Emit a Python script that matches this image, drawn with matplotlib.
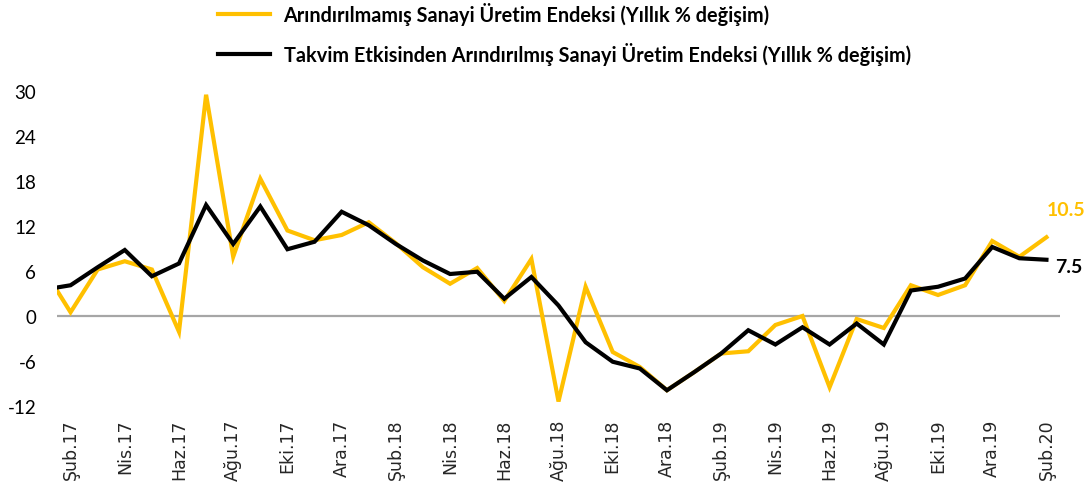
import matplotlib
matplotlib.use("Agg")
import matplotlib.pyplot as plt

plt.rcParams['font.family'] = ['Lato', 'DejaVu Sans']

# Monthly data, Jan 2017 (partially visible) .. Feb 2020
months = ["Oca.17", "Şub.17", "Mar.17", "Nis.17", "May.17", "Haz.17", "Tem.17", "Ağu.17", "Eyl.17",
          "Eki.17", "Kas.17", "Ara.17", "Oca.18", "Şub.18", "Mar.18", "Nis.18", "May.18", "Haz.18",
          "Tem.18", "Ağu.18", "Eyl.18", "Eki.18", "Kas.18", "Ara.18", "Oca.19", "Şub.19", "Mar.19",
          "Nis.19", "May.19", "Haz.19", "Tem.19", "Ağu.19", "Eyl.19", "Eki.19", "Kas.19", "Ara.19",
          "Oca.20", "Şub.20"]

unadjusted = [6.3, 0.5, 6.2, 7.3, 6.2, -2.1, 29.5, 7.9, 18.3, 11.4, 10.1, 10.8, 12.5, 9.7, 6.5, 4.3,
              6.4, 2.0, 7.6, -11.4, 3.9, -4.8, -6.8, -9.9, -7.5, -5.0, -4.7, -1.2, 0.0, -9.5, -0.4,
              -1.6, 4.1, 2.8, 4.1, 10.0, 7.9, 10.5]

calendar_adj = [3.5, 4.1, 6.5, 8.8, 5.3, 7.0, 14.8, 9.6, 14.6, 8.9, 9.9, 13.9, 12.1, 9.6, 7.4, 5.6,
                5.9, 2.3, 5.2, 1.4, -3.5, -6.1, -7.0, -9.9, -7.5, -5.0, -1.9, -3.8, -1.5, -3.8, -1.0,
                -3.8, 3.4, 3.9, 5.0, 9.2, 7.7, 7.5]

label_unadj = "Arındırılmamış Sanayi Üretim Endeksi (Yıllık % değişim)"
label_adj = "Takvim Etkisinden Arındırılmış Sanayi Üretim Endeksi (Yıllık % değişim)"

yticks = [-12, -6, 0, 6, 12, 18, 24, 30]

YELLOW = "#FFC000"
BLACK = "#000000"

x = [i - 1 for i in range(len(months))]  # Şub.17 at 0

fig = plt.figure(figsize=(10.9, 4.85), dpi=100)
ax = fig.add_axes([57/1090, 78/485, (1060-57)/1090, (407.3-92.3)/485])

l1, = ax.plot(x, unadjusted, color=YELLOW, lw=3.0, solid_joinstyle='miter', label=label_unadj, zorder=3)
l2, = ax.plot(x, calendar_adj, color=BLACK, lw=3.0, solid_joinstyle='miter', label=label_adj, zorder=4)
ax.axhline(0, color="#A6A6A6", lw=1.6, zorder=2)

ax.set_xlim(-0.5, len(months) - 1.5)
ax.set_ylim(-12, 30)
for s in ax.spines.values():
    s.set_visible(False)

ax.set_yticks(yticks)
ax.set_yticklabels([str(v) for v in yticks], fontsize=13.5, color="#000000")
tick_pos = list(range(0, len(months) - 1, 2))
ax.set_xticks(tick_pos)
ax.set_xticklabels([months[p + 1] for p in tick_pos], rotation=90, fontsize=12.5,
                   color="#262626", family=['DejaVu Sans'])
ax.tick_params(axis='both', length=0)
ax.tick_params(axis='y', pad=15)
ax.tick_params(axis='x', pad=9)

ax.annotate(f"{unadjusted[-1]:.1f}", xy=(x[-1], unadjusted[-1]), xytext=(0, 28), textcoords='offset pixels',
            ha='left', va='center', fontsize=14, fontweight='bold', color=YELLOW, annotation_clip=False)
ax.annotate(f"{calendar_adj[-1]:.1f}", xy=(x[-1], calendar_adj[-1]), xytext=(9, -7), textcoords='offset pixels',
            ha='left', va='center', fontsize=14, fontweight='bold', color=BLACK, annotation_clip=False)

leg = fig.legend(handles=[l1, l2], loc='upper left', bbox_to_anchor=(218/1090, 1 - 3/485),
                 frameon=False, borderpad=0, borderaxespad=0, handlelength=2.6, handletextpad=0.7,
                 labelspacing=0.85, prop={'weight': 'bold', 'size': 14.3})

fig.savefig("out.png", dpi=100)
